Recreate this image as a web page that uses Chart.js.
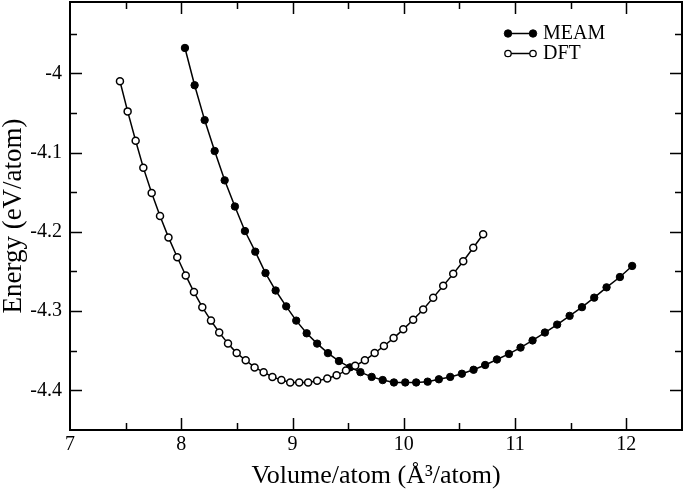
<!DOCTYPE html>
<html>
<head>
<meta charset="utf-8">
<script src="https://cdn.jsdelivr.net/npm/chart.js@4.4.1/dist/chart.umd.min.js"></script>
<style>
  html, body { margin: 0; padding: 0; background: #fff; }
  #wrap { width: 684px; height: 492px; }
</style>
</head>
<body>
<div id="wrap"><canvas id="energy-chart" width="684" height="492"></canvas></div>
<script>
// data
const meamVolume = [8.033, 8.120, 8.210, 8.300, 8.390, 8.482, 8.572, 8.665, 8.757, 8.848, 8.943, 9.033, 9.127, 9.221, 9.318, 9.417, 9.516, 9.610, 9.711, 9.810, 9.911, 10.013, 10.111, 10.214, 10.315, 10.417, 10.522, 10.627, 10.731, 10.837, 10.944, 11.049, 11.157, 11.268, 11.378, 11.490, 11.601, 11.711, 11.822, 11.942, 12.052];
const meamEnergy = [-3.968, -4.015, -4.059, -4.098, -4.135, -4.168, -4.199, -4.225, -4.252, -4.274, -4.294, -4.312, -4.328, -4.341, -4.353, -4.363, -4.371, -4.377, -4.383, -4.387, -4.390, -4.390, -4.390, -4.389, -4.386, -4.383, -4.379, -4.374, -4.368, -4.361, -4.354, -4.346, -4.337, -4.327, -4.317, -4.306, -4.295, -4.283, -4.270, -4.257, -4.243];
const dftVolume = [7.449, 7.518, 7.590, 7.659, 7.734, 7.809, 7.885, 7.964, 8.040, 8.114, 8.189, 8.267, 8.341, 8.420, 8.498, 8.579, 8.659, 8.740, 8.819, 8.900, 8.979, 9.060, 9.140, 9.221, 9.312, 9.396, 9.480, 9.563, 9.650, 9.738, 9.821, 9.908, 9.995, 10.084, 10.174, 10.264, 10.354, 10.444, 10.534, 10.624, 10.713];
const dftEnergy = [-4.010, -4.048, -4.085, -4.119, -4.151, -4.180, -4.207, -4.232, -4.255, -4.276, -4.295, -4.312, -4.327, -4.341, -4.353, -4.362, -4.371, -4.377, -4.383, -4.387, -4.390, -4.390, -4.390, -4.388, -4.385, -4.381, -4.375, -4.369, -4.362, -4.353, -4.344, -4.334, -4.323, -4.311, -4.298, -4.283, -4.268, -4.253, -4.237, -4.220, -4.203];

// labelled ticks
const xTickLabels = [7, 8, 9, 10, 11, 12];
const yTickLabels = [-4, -4.1, -4.2, -4.3, -4.4];

const serif = "'Liberation Serif', 'DejaVu Serif', serif";
Chart.defaults.font.family = serif;
Chart.defaults.color = "#000";

// helper: zip two arrays into {x, y} points
const toPoints = (xs, ys) => xs.map((x, i) => ({ x: x, y: ys[i] }));

const near = (a, b) => Math.abs(a - b) < 1e-6;

// no extra room for half labels sticking out past the plot
const dropPadding = (scale) => {
  scale.paddingTop = 0;
  scale.paddingBottom = 0;
  scale.paddingLeft = 0;
  scale.paddingRight = 0;
};

// draws the inward ticks on all four sides, the frame and the legend
const gracePlugin = {
  id: "grace",
  afterDraw(chart) {
    const ctx = chart.ctx;
    const area = chart.chartArea;
    const xScale = chart.scales.x;
    const yScale = chart.scales.y;
    ctx.save();
    ctx.strokeStyle = "#000";
    ctx.lineWidth = 1.5;
    ctx.beginPath();
    for (const t of xScale.ticks) {
      if (near(t.value, xScale.min) || near(t.value, xScale.max)) continue;
      const len = xTickLabels.some((v) => near(v, t.value)) ? 12 : 7;
      const px = Math.round(xScale.getPixelForValue(t.value)) + 0.5;
      ctx.moveTo(px, area.bottom);
      ctx.lineTo(px, area.bottom - len);
      ctx.moveTo(px, area.top);
      ctx.lineTo(px, area.top + len);
    }
    for (const t of yScale.ticks) {
      if (near(t.value, yScale.min) || near(t.value, yScale.max)) continue;
      if (!near(t.value * 20, Math.round(t.value * 20))) continue;
      const len = yTickLabels.some((v) => near(v, t.value)) ? 12 : 7;
      const py = Math.round(yScale.getPixelForValue(t.value)) + 0.5;
      ctx.moveTo(area.left, py);
      ctx.lineTo(area.left + len, py);
      ctx.moveTo(area.right, py);
      ctx.lineTo(area.right - len, py);
    }
    ctx.stroke();

    // frame
    ctx.lineWidth = 2;
    ctx.strokeRect(area.left, area.top, area.right - area.left, area.bottom - area.top);

    // legend: marker - line - marker, then the name
    const entries = [
      { name: chart.data.datasets[0].label, fill: "#000", y: 33.5 },
      { name: chart.data.datasets[1].label, fill: "#fff", y: 53.5 },
    ];
    ctx.font = "20px " + serif;
    ctx.textBaseline = "middle";
    ctx.textAlign = "left";
    for (const e of entries) {
      ctx.lineWidth = 1.5;
      ctx.beginPath();
      ctx.moveTo(508, e.y);
      ctx.lineTo(533, e.y);
      ctx.stroke();
      for (const cx of [508, 533]) {
        ctx.beginPath();
        ctx.arc(cx, e.y, e.fill === "#000" ? 3.8 : 3.2, 0, Math.PI * 2);
        ctx.fillStyle = e.fill;
        ctx.fill();
        ctx.lineWidth = e.fill === "#000" ? 0.8 : 1.3;
        ctx.stroke();
      }
      ctx.fillStyle = "#000";
      ctx.fillText(e.name, 543, e.y);
    }
    ctx.restore();
  },
};

const chartConfig = {
  type: "line",
  data: {
    datasets: [
      {
        label: "MEAM",
        data: toPoints(meamVolume, meamEnergy),
        borderColor: "#000",
        borderWidth: 1.5,
        pointRadius: 3.7,
        pointBackgroundColor: "#000",
        pointBorderColor: "#000",
        pointBorderWidth: 1,
        tension: 0,
        order: 1,
      },
      {
        label: "DFT",
        data: toPoints(dftVolume, dftEnergy),
        borderColor: "#000",
        borderWidth: 1.5,
        pointRadius: 3.5,
        pointBackgroundColor: "#fff",
        pointBorderColor: "#000",
        pointBorderWidth: 1.5,
        tension: 0,
        order: 0,
      },
    ],
  },
  options: {
    responsive: false,
    animation: false,
    devicePixelRatio: 1,
    // the point radius would otherwise push the plot in from the edges
    layout: { autoPadding: false, padding: { top: 2, right: 2, left: 0, bottom: 0 } },
    plugins: {
      legend: { display: false },
      tooltip: { enabled: false },
    },
    scales: {
      x: {
        type: "linear",
        min: 7,
        max: 12.5,
        grid: { display: false, drawTicks: false },
        border: { display: false },
        ticks: {
          stepSize: 0.5,
          padding: 3,
          maxRotation: 0,
          autoSkip: false,
          font: { size: 20 },
          callback: (v) => (xTickLabels.some((t) => near(t, v)) ? String(Math.round(v)) : ""),
        },
        title: {
          display: true,
          text: "Volume/atom (Å³/atom)",
          font: { size: 26, lineHeight: 1.2 },
          padding: 0,
        },
        afterFit: (scale) => {
          scale.height = 62;
          dropPadding(scale);
        },
      },
      y: {
        type: "linear",
        min: -4.45,
        max: -3.91,
        grid: { display: false, drawTicks: false },
        border: { display: false },
        ticks: {
          stepSize: 0.05,
          includeBounds: false,
          padding: 8,
          autoSkip: false,
          font: { size: 20 },
          callback: (v) => (yTickLabels.some((t) => near(t, v)) ? String(Math.round(v * 10) / 10) : ""),
        },
        title: {
          display: true,
          text: "Energy (eV/atom)",
          font: { size: 27, lineHeight: 1.05 },
          padding: 0,
        },
        afterFit: (scale) => {
          scale.width = 70;
          dropPadding(scale);
        },
      },
    },
  },
  plugins: [gracePlugin],
};

const ctx = document.querySelector("#energy-chart").getContext("2d");
const energyChart = new Chart(ctx, chartConfig);
</script>
</body>
</html>
